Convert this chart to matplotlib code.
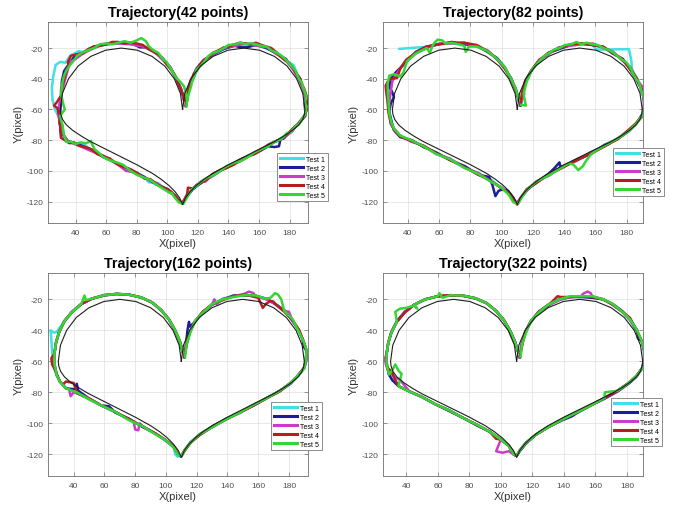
import matplotlib
matplotlib.use("Agg")
from matplotlib import pyplot as plt

plt.rcParams['font.family'] = ['Liberation Sans', 'DejaVu Sans']
plt.rcParams['axes.unicode_minus'] = False

### DATA ###

# reference heart (black line)
heart_x = [110, 108.6, 104.6, 98.3, 90, 80.4, 70, 59.6, 50, 41.7, 35.4, 31.4, 30,
           30.3, 31.5, 34, 38, 44, 50, 60, 70, 80, 90, 96, 101, 105, 108, 110,
           112, 115, 119, 124, 130, 140, 150, 160, 170, 176, 182, 186, 188.5, 189.7, 190,
           188.6, 184.6, 178.3, 170, 160.4, 150, 139.6, 130, 121.7, 115.4, 111.4, 110]
heart_y = [-60, -49.6, -40, -31.7, -25.4, -21.4, -20, -21.4, -25.4, -31.7, -40, -49.6, -60,
           -63, -66.5, -70, -73.5, -77.5, -81, -86, -91, -96, -101.5, -105.5, -109.5, -113.5, -117.5, -122,
           -117.5, -113.5, -109.5, -105.5, -101.5, -96, -91, -86, -81, -77.5, -73.5, -70, -66.5, -63, -60,
           -49.6, -40, -31.7, -25.4, -21.4, -20, -21.4, -25.4, -31.7, -40, -49.6, -60]

test_labels = ["Test 1", "Test 2", "Test 3", "Test 4", "Test 5"]
test_colors = ["#3fe0e6", "#1c1c9c", "#cc3ccc", "#b41e1e", "#34d634"]
panel_titles = ["Trajectory(42 points)", "Trajectory(82 points)",
                "Trajectory(162 points)", "Trajectory(322 points)"]
x_ticks = [40, 60, 80, 100, 120, 140, 160, 180]
y_ticks = [-120, -100, -80, -60, -40, -20]

# ---- 42 points ----
p42_test1 = [(112,-56),(113.5,-48),(116,-41.5),(119.5,-34),(124.5,-28.5),(130,-23),(137.5,-20.5),(144,-17.5),(151,-17.8),(158.5,-17),(165,-20.5),(171.5,-22.5),(177,-28),(182.5,-31),(186,-39.5),(189,-46),
             (191,-53),(191,-58.5),(190.5,-64),
             (186.5,-68.5),(181,-74.5),(174.5,-78.5),(166,-84),(157.5,-88),(148,-93.5),(139.5,-97),(130,-103),(122.5,-107),(116,-113),(112.5,-117),
             (110.5,-121),(108,-120.5),
             (105.5,-116),(100,-113),(94,-108),(88,-107.5),(85,-104),(76,-100),(67,-95.5),(58,-90),(50.5,-86.5),(45,-82.5),(40,-82),(34,-81),(31.5,-77),
             (31,-70),(29,-64.5),(26.5,-60),
             (25,-54),(24.5,-46),(25.5,-38),(27,-31),(30,-29),(33.5,-29.5),(36.5,-25),(42,-22),(45,-22.5),(52,-19),(60,-17.8),(68,-16.2),(76,-17.5),(84,-18.5),(91,-22.5),(97,-26.5),(102,-33.5),(106,-39.5),(109,-46.5),(111,-53.5)]
p42_test2 = [(112.5,-57),(113,-50),(115,-42),(119,-33.5),(123.5,-28),(130.5,-24),(137,-20.5),(144,-18.5),(148,-19.5),(152,-19.5),(158,-18),(165,-20),(171,-23.5),(177.5,-27),(182,-33.5),(187,-40),(189,-47.5),
             (191,-53.5),(191.5,-59),(189.5,-64.5),
             (186,-69.5),(181,-74),(176,-79),(174,-79.5),(173,-84),(170,-84.5),(166,-84),(157,-89),(148,-92.5),(139,-98),(130,-102),(122,-108),(116.5,-112),(112,-118),
             (110,-121.5),(108,-120),
             (105,-116.5),(100.5,-112),(93,-109),(85,-104),(76.5,-99.5),(67,-95),(58,-91),(50,-86),(42.5,-83),(35,-80.5),(31,-75.5),
             (29.5,-69),(30,-62),(30.5,-55),
             (31,-48),(31,-42),(32.5,-35),(37,-28.5),(40,-24.5),(45,-23),(52,-19),(60,-17.5),(68,-16.8),(76,-16.5),(82,-19.5),(86,-19.5),(91,-21.5),(97,-27.5),(102,-32.5),(106,-40.5),(109,-46.5),(111,-54)]
p42_test3 = [(112,-58),(113.5,-49.5),(115.5,-40.5),(119.5,-34.5),(124,-27.5),(130,-24),(136.5,-20),(144.5,-18.5),(151,-17),(158,-18.5),(165.5,-19.5),(171,-23.5),(176.5,-27),(182,-33.5),(186,-40.5),(188.5,-46),
             (190,-51),(189.5,-56),(190.5,-63),
             (186,-68.5),(181.5,-74.5),(174,-79.5),(166.5,-83),(157,-88),(148.5,-93.5),(139,-97),(130.5,-103),(127,-105),(125,-107),(122,-107),(116,-112),(112,-117),
             (110,-120.5),(108,-120),
             (104.5,-116),(100,-113),(93,-108),(85.5,-105),(78,-101),(73,-100),(67,-95.5),(58,-90),(50,-87),(42,-83.5),(35,-81),(32,-76),
             (30,-69.5),(28.5,-63),(29.5,-56),
             (31,-49),(33,-41),(35,-34),(36,-29),(39.5,-27.5),(45,-23.5),(52,-20),(60,-17),(68,-17),(76,-17.5),(84,-19),(91,-21.5),(97,-27.5),(102,-32.5),(106,-40),(109,-47),(111,-54.5)]
p42_test4 = [(112,-57.5),(112.5,-53),(113,-49),(114.5,-44),(116,-41),(117.5,-36.5),(119,-34.5),(121.5,-30.5),(124,-28),(127,-26),(130,-23),(133.5,-21.5),(137,-19.5),(140.5,-19),(144,-17.5),(147.5,-16.5),(151,-17),(154.5,-17.5),(158,-16.5),(161.5,-18),(165,-19),(168,-20),(171,-22.5),(174,-25.5),(177,-28),(179.5,-29.5),(182,-32.5),(184.5,-37),(186.5,-39.5),(188,-43.5),(189.5,-46.5),
             (191.5,-52.5),(190.5,-57),(191.5,-58),(190,-64.5),
             (188,-66.5),(186,-69),(183.5,-71),(181,-73.5),(177.5,-77),(174,-79.5),(170,-81),(166,-83),(161.5,-86.5),(157,-89),(152.5,-90.5),(148,-93),(143.5,-96),(139,-98),(134.5,-99.5),(130,-102),(126,-105.5),(122,-108),(119.5,-109),(117,-111.5),(113.5,-111),(113,-115),(112,-117.5),
             (110,-121),(108.5,-120),
             (105,-116),(102.5,-113.5),(100,-112),(96.5,-110.5),(93,-108.5),(89,-105.5),(85,-105),(80.5,-101.5),(76,-99),(71.5,-97.5),(67,-95.5),(62.5,-92),(58,-90.5),(54,-89),(50.5,-86),(46,-84.5),(42,-83.5),(39,-81.5),(36,-82),(33,-80),(30.5,-78.5),
             (30,-74),(30,-70),(29.5,-67.5),(30,-65),(28,-59),(26,-57.5),(28,-55),
             (30.5,-51),(30.5,-47.5),(31.5,-44),(33,-39),(34,-35),(35.5,-31.5),(35,-29),(36,-27),(37,-25),(41,-24),(45,-23.5),(48.5,-20.5),(52,-19),(56,-18.5),(60,-17.5),(64,-16),(68,-16),(72,-17),(76,-16.5),(80,-17),(84,-18),(87.5,-20.5),(91,-22.5),(94,-24),(97,-26.5),(99.5,-30.5),(102,-33.5),(104,-36),(106,-39.5),(107.5,-44),(109,-47.5),(110.5,-50.5),(111,-54)]
p42_test5 = [(112.5,-58),(113,-54),(114,-50),(115.5,-45),(116,-42.5),(118,-38),(119,-34),(121.5,-32),(124.5,-28.5),(127,-25),(130,-23),(133.5,-22),(137,-20),(140,-18),(144.5,-17.5),(148,-16.5),(151,-17.5),(154.5,-16.8),(158,-17.5),(161,-18.5),(165,-19),(168,-21.5),(171.5,-23),(174,-24.5),(177,-27),(180,-30.5),(182.5,-33),(184,-35),(186,-40),(188,-42.5),(189,-46),
             (191,-52),(190,-55),(191,-58),(190.5,-61),(190,-63.5),
             (188,-66),(186.5,-69),(184,-71),(181,-74.5),(178,-75.5),(176,-78),(174,-79.5),(170,-81),(166,-84),(161,-86),(157,-88),(152,-91.5),(148,-93.5),(143,-95),(139,-97),(134,-100.5),(130,-103),(126,-104.5),(122,-107),(119,-110),(116,-112),(114,-115.5),(112.5,-118),
             (110.5,-121.5),(107.5,-120.5),
             (104.5,-117),(103,-114.5),(101,-114),(97,-111.5),(93,-109),(89,-106),(85,-104.5),(80,-102.5),(76,-100),(71,-96),(67,-94.5),(62,-93),(58,-91),(55,-88),(52.5,-86),(51,-83),(50,-80.5),(47,-82),(43,-81.5),(40,-82.5),(37,-81),(34,-81),(32.5,-77),
             (31.5,-70),(30.5,-67),(30,-64),(33,-60),(32,-56.5),
             (30.5,-50),(31,-46),(31.5,-42),(32.5,-38),(34,-34.5),(36.5,-31),(39,-28),(41,-25),(44.5,-23),(48,-21.5),(52,-20),(56,-17.5),(60,-17),(64,-17.5),(68,-16.5),(72,-15.5),(76,-16.5),(80,-15),(83,-13.5),(86,-15.5),(88,-19),(91,-21.5),(94,-23),(97,-27),(99.5,-29),(102,-33),(104,-36.5),(106,-39.5),(108.5,-42),(111,-45),(112,-49),(113,-54)]

# ---- 82 points ----
p82_test1 = [(34.5,-20.5),(54,-19),(60,-17.5),(68,-16.8),(76,-17.5),(84,-18.5),(91,-22.5),(97,-26.5),(102,-33.5),(106,-39.5),(109,-47),(111,-54.5),
             (112.5,-57),(113,-48.5),(116,-41),(119,-34.5),(124.5,-28),(130,-23),(137.5,-20.5),(144,-17.5),(151,-17.5),(158,-17.5),(160.5,-21),(181.5,-20.7),(183,-28),(183.5,-34),(187,-40.5),(189.5,-46.5),
             (191,-53),(191.5,-58.5),(190,-64.5),
             (186.5,-68.5),(181,-74.5),(174.5,-78.5),(166,-84),(157.5,-88),(148,-93.5),(139.5,-97),(130,-103),(122.5,-107),(116,-113),(112.5,-117),
             (110.5,-121),(108,-120.5),
             (105.5,-115),(100,-111.5),(93.5,-106),(85,-102.5),(76,-97),(67,-93),(58,-88),(50.5,-84.5),(42,-80),(35.5,-78),(31,-72.5),
             (29.5,-68.5),(28,-62.5),(27,-55),
             (28.5,-48.5),(30,-41),(34,-34.5),(38.5,-28)]
p82_test2 = [(112,-57.5),(113.5,-49),(115,-41.5),(119.5,-34),(123.5,-28.5),(130.5,-23),(137,-20.5),(144.5,-18),(151,-17),(158,-18),(165.5,-19.5),(171,-23.5),(177.5,-27),(182,-33.5),(186,-40),(190,-47.5),
             (191,-53.5),(191.5,-59.5),(189.5,-64),
             (186,-69.5),(181.5,-74),(174,-79.5),(166,-83),(157,-89),(148.5,-92.5),(140,-97),(137.5,-97),(137,-94.5),(134,-98),(130,-102),(122,-108),(116.5,-112),(112,-118),
             (110,-121.5),(108.5,-119.5),
             (104,-113),(101,-112),(98,-113),(96,-116.5),(94,-109),(92,-104),(85,-102.5),(76.5,-97),(67,-93),(58,-88),(50,-84.5),(42.5,-80),(35,-78),(31,-73.5),
             (29.5,-68),(28,-61.5),(29,-56),(31,-52),(30,-49),(28,-45),(29,-40),(32,-36),
             (35,-33),(39.5,-28.5),(45,-22.5),(52,-19),(60,-17.5),(68,-16),(76,-17.5),(84,-18.5),(91,-22.5),(97,-26.5),(102,-32.5),(106,-40.5),(109,-46.5),(111,-54)]
p82_test3 = [(112,-56.5),(114.5,-50),(113.5,-48),(116,-40.5),(119,-35),(124,-27.5),(130,-24),(136.5,-19.5),(144,-18.5),(151,-17.5),(158.5,-17),(165,-20),(171.5,-22.5),(177,-28),(182.5,-32.5),(186.5,-40.5),(190,-45),(189,-47.5),
             (191.5,-52.5),(191,-58),(190.5,-63.5),
             (186,-69),(181,-74.5),(174.5,-79),(166.5,-83.5),(157,-88),(148,-93.5),(139,-97),(130.5,-103),(122,-107),(116,-113),(112.5,-117),
             (110,-120.5),(108,-120),
             (105,-115.5),(100.5,-111),(93,-107),(85.5,-101.5),(76,-98),(67,-92),(58,-89),(50,-83.5),(42,-81),(35,-77),(31.5,-73),
             (29,-69.5),(28,-62),(28,-55.5),
             (29,-48),(30,-41.5),(34.5,-34),(39,-28.5),(45,-23.5),(52,-20),(60,-17),(68,-17),(76,-16.5),(84,-19),(91,-21.5),(97,-27.5),(102,-33),(106,-40),(109,-47.5),(111,-54.5)]
p82_test4 = [(112,-57),(113,-49.5),(115.5,-41),(119,-34.5),(124,-28),(130,-23),(137,-20),(144,-17.5),(151,-17),(158,-18),(165,-19),(171,-23),(177,-27),(182,-33.5),(186.5,-39.5),(189.5,-47),
             (191.5,-53),(191,-59),(190,-64.5),
             (186,-69),(181,-73.5),(174,-79.5),(166,-84),(157,-89),(148,-93),(139,-98),(130,-102.5),(122,-108),(116,-112),(112,-118),
             (110,-122),(108.5,-120),
             (105,-115),(100,-111.5),(93,-106.5),(85,-102.5),(76,-97.5),(67,-93),(58,-88.5),(50.5,-84),(42,-80.5),(35,-77.5),(31,-73),
             (29,-69),(27.5,-62),(27,-55.5),(26,-48),(25.7,-44.5),(27,-42),
             (29,-40),(33,-39.5),(35,-33.5),(39,-27.5),(45,-23),(52,-19),(60,-17.5),(68,-16.5),(76,-16.5),(84,-18),(91,-22),(97,-27),(102,-33.5),(106,-39.5),(109,-47),(111,-53.5)]
p82_test5 = [(112.5,-57),(115.5,-57.5),(114,-50),(115,-46),(116,-42),(118,-37.5),(119,-34.5),(122,-31),(124.5,-28),(127.5,-25),(130,-23.5),(133.5,-21),(137,-20),(140.5,-18),(144.5,-17.5),(148,-16),(151,-17.5),(154.5,-16.5),(158,-17.5),(161.5,-18),(165,-20),(168,-21),(171.5,-23),(174,-25),(177,-27.5),(180,-29.5),(182.5,-33),(184,-36.5),(186,-40),(188,-42.5),(189,-46.5),
             (191,-52.5),(191.5,-58),(190,-64),
             (186.5,-69),(181,-74.5),(174,-79),(166,-83.5),(160,-87),(157,-89.5),(154,-93.5),(152,-97),(149,-99.5),(146,-96),(143,-95),(139,-97.5),(130,-103),(122,-107),(116,-112.5),(112.5,-118),
             (110.5,-121.5),(107.5,-120.5),
             (104.5,-115.5),(100,-111),(93,-107),(85,-102),(76,-98),(67,-92.5),(58,-89),(50,-84),(42,-80),(35,-77),(31,-72.5),
             (29.5,-69),(28,-62.5),(27.5,-55),
             (27,-48),(27,-43),(28,-38),(31,-37),(35,-38.5),(37,-36),(39.5,-28.5),(45,-23.5),(52,-20),(54,-23),(56,-18),(57,-16.5),(59,-14.5),(62,-15),(64,-17),(68,-16.5),(76,-18.5),(77,-22.5),(79,-19),(84,-19),(91,-22),(97,-27),(102,-32.5),(106,-40),(109,-46.5),(111,-54)]

# ---- 162 points ----
p162_test1 = [(112,-57),(113.5,-49),(115.5,-41.5),(119,-34),(124.5,-28),(130,-23.5),(137,-19.5),(144.5,-18),(151,-17),(158,-18),(165,-20),(171,-22.5),(177.5,-27.5),(182,-33),(186.5,-40),(189.5,-47.5),
              (191,-53),(191.5,-59),(190,-64.5),
              (186,-69.5),(181,-74),(174.5,-79),(166,-83.5),(157,-88),(148,-93.5),(139,-97),(130,-102.5),(122,-107.5),(116,-112),(112,-117.5),
              (110,-121),(107.5,-121.5),(106,-120),
              (105,-115),(100,-111.5),(93,-106.5),(85,-102),(76,-97.5),(67,-93),(58,-88.5),(50,-84.5),(42,-80.5),(35,-77),(31,-73),
              (28.5,-68.5),(27,-62),(26,-55),(25.5,-46),(25,-40),(27,-41.5),
              (29,-41),(34,-34),(39,-28.5),(45,-23),(52,-19.5),(60,-17),(68,-16.5),(76,-17),(84,-19),(91,-22),(97,-27.5),(102,-33),(106,-40.5),(109,-47),(111,-54)]
p162_test2 = [(112,-57.5),(113,-49.5),(114,-40),(115,-34.5),(115.5,-37.5),(119,-34.5),(124,-28),(130,-23.5),(137,-20),(144,-17.5),(151,-17.5),(158,-17.5),(165,-19.5),(171,-23),(177,-27),(182,-33.5),(186.5,-40),(189,-46),(189.5,-50.5),
              (191.5,-53),(191,-59),(190,-64),
              (186,-69),(181,-74.5),(174,-79),(166,-83.5),(157,-88.5),(148,-93),(139,-97.5),(130,-102.5),(122,-107),(116,-112.5),(112,-117.5),
              (110,-121.5),(108,-120),
              (105,-115.5),(100,-111),(93,-106.5),(85,-102.5),(76,-97),(67,-93),(63,-89),(58,-88.5),(50,-84),(43,-79),(42,-74.5),(41,-78),(35,-77.5),(31,-73),
              (29,-68.5),(27.5,-62),(27.5,-55),
              (28.5,-48),(30.5,-41.5),(34,-34),(39,-28),(45,-23),(52,-19.5),(60,-17.5),(68,-16.5),(76,-17),(84,-18.8),(91,-22),(97,-27),(102,-33),(106,-40),(109,-47),(111,-54)]
p162_test3 = [(112,-56.5),(113,-49),(115.5,-41),(119,-34),(124,-28.5),(130,-23.5),(131.5,-20),(133,-23),(137,-20),(144,-18),(151,-16.5),(154,-15),(157,-16),(158,-17.8),(165,-19.8),(171,-23),(177,-27.5),(180,-28),(182,-33),(186.5,-40),(189.5,-47),
              (191.5,-53),(191.5,-59),(190,-64),
              (186,-69),(181,-74),(174,-79),(166,-83.5),(157,-88.5),(148,-93),(139,-97.5),(130,-102.5),(122,-107.5),(116,-112.5),(112,-117.5),
              (110,-121),(108,-120),
              (105,-115),(100,-111),(93,-106.5),(85,-102),(83,-100),(82,-104.5),(80,-104),(79,-99),(76,-97.5),(67,-92.5),(58,-88.5),(50,-84),(42,-80.5),(40,-80),(38,-82.5),(37,-78),(35,-77.5),(31,-73),
              (29,-69),(27.5,-62),(27.5,-55),
              (28.5,-48),(30.5,-41),(34,-34),(39,-28),(45,-23),(52,-19.5),(60,-17.3),(68,-16.5),(76,-17),(84,-18.8),(91,-22),(97,-27),(102,-33),(106,-40),(109,-47),(111,-54)]
p162_test4 = [(112,-57),(113.5,-49),(115.5,-41.5),(119,-34),(124,-28),(130,-23),(137,-20.5),(144,-18),(151,-17),(158,-18.5),(160,-19),(163,-25.5),(165,-23),(168,-21),(170,-21.5),(171,-23),(177,-28),(182,-33),(186.5,-39.5),(189.5,-47),
              (191.5,-53),(191,-59),(190,-64),
              (186,-69),(181,-74),(174,-79.5),(166,-83.5),(157,-88.5),(148,-93),(139,-97.5),(130,-102),(122,-107.5),(116,-112.5),(112,-118),
              (110,-121),(108,-120),
              (105,-115),(100,-111),(93,-106.5),(85,-102),(76,-97.5),(67,-92.5),(58,-88.5),(50,-84),(42,-80.5),(41,-77),(40,-74),(35,-73),(33,-75),(31,-73),
              (28,-66),(26,-62),(25.5,-58),(27.5,-55),
              (28.5,-48),(30.5,-41),(34,-34),(39,-28),(45,-23),(52,-19.5),(60,-17.3),(68,-16.5),(76,-17),(84,-18.8),(91,-22),(97,-27),(102,-33),(106,-40),(109,-47),(111,-54)]
p162_test5 = [(112.5,-57),(113.5,-49),(116,-41),(119,-34),(124,-28.5),(130,-23),(137,-20),(144,-18.5),(151,-17.3),(158,-17.5),(165,-19.5),(168,-19),(171,-16),(173,-17),(175,-20),(177,-27.5),(182.5,-33),(186,-40),(189.5,-47),
              (191.5,-53),(191,-59),(190,-64.5),
              (186,-69),(181,-74),(174,-79),(166,-83.5),(157,-88),(148,-93),(139,-97.5),(130,-102.5),(122,-107),(116,-112.5),(112,-117.5),
              (110,-121),(108,-120.5),
              (105,-115.5),(100,-111),(93,-107),(85,-102),(76,-98),(67,-92.5),(58,-88.5),(50,-84.5),(42,-80),(35,-77.5),(31,-73),
              (29,-69),(27.5,-62),(27.5,-55),
              (28.5,-48),(30.5,-41),(34,-34),(39,-28),(45,-23),(47,-17.5),(48,-20.5),(52,-19.5),(60,-17.3),(68,-16.5),(76,-17),(84,-18.8),(91,-22),(97,-27),(102,-33),(106,-40),(109,-47),(111,-54)]

# ---- 322 points ----
p322_test1 = [(112,-57),(113,-49.5),(115.5,-41.5),(119,-34.5),(124,-28.5),(130,-24),(137,-20.5),(144,-18.5),(151,-18),(158,-18.3),(165,-20.3),(171,-23.5),(177,-28),(182,-33.5),(186,-40.5),(189.5,-47),
              (190.5,-52.8),(191,-59),(190,-64),
              (186,-69.5),(181,-74),(174,-79),(166,-83.5),(157,-88.5),(148,-93),(139,-97.5),(130,-102.5),(122,-107.5),(116,-112.5),(112,-117.5),
              (110,-121),(108,-120),
              (105,-114.5),(100,-110.5),(93,-105.5),(85,-101),(76,-96.5),(67,-91.5),(58,-87.5),(50,-83),(42,-79.5),(35,-76),(31,-72),
              (29,-68.5),(27.5,-62),(27.5,-55),
              (28.5,-48.5),(30.5,-41.5),(34,-34.5),(39,-28.5),(45,-23.5),(52,-20),(60,-18),(68,-17.3),(76,-17.6),(84,-19.3),(91,-22.5),(97,-27.5),(102,-33.5),(106,-40.5),(109,-47.5),(111,-54)]
p322_test2 = [(112,-57.5),(113.5,-49),(115.5,-41),(119,-34),(124,-28),(130,-23.5),(137,-20),(144,-18.5),(151,-18.5),(158,-19),(165,-20),(171,-23),(177,-27.5),(182,-33),(186.5,-40),(187,-45.2),(189.5,-47),
              (191,-53),(191,-59),(189.5,-64.5),
              (186,-70),(181,-74.5),(174,-79.5),(166,-84),(157,-88.5),(148,-93.5),(145,-95.5),(139,-98),(130,-102.5),(122,-107.5),(116,-113),(112,-118),
              (110,-121),(108,-120),
              (105,-114.5),(100,-110.5),(93,-105.5),(85,-101.5),(76,-96.5),(67,-92),(58,-87.5),(50,-83),(42,-79.5),(35,-76),(31,-72),
              (29,-68.5),(27.5,-62),(27.5,-55),
              (28.5,-48),(30.5,-41),(34,-34),(39,-28),(45,-23.5),(52,-20),(60,-18),(68,-17.5),(76,-17.8),(84,-19.5),(91,-22.5),(97,-27.5),(102,-33.5),(106,-40.5),(109,-47.5),(111,-54)]
p322_test3 = [(112,-57),(113,-49),(115.5,-41.5),(119,-34),(124,-28.5),(130,-24),(137,-20.5),(144,-18.5),(151,-18),(152,-16.5),(155,-15),(157,-16),(158,-18),(165,-20),(171,-23.5),(177,-28),(182,-33.5),(186.5,-40.5),(189.5,-47.5),
              (191,-53),(191,-59),(190,-64),
              (186,-69.5),(181,-74),(174,-79),(166,-83.5),(157,-88.5),(148,-93),(139,-97.5),(130,-102.5),(122,-107.5),(116,-112.5),(112,-117.5),
              (110,-121),(108,-120),
              (105,-118),(101,-119),(97,-118),(100,-110.5),(93,-105.5),(85,-101),(76,-96.5),(67,-91.5),(58,-87.5),(50,-83),(42,-79.5),(36,-72),(33,-70.5),
              (28.5,-66),(27,-62),(26.5,-58),(27.5,-55),
              (28.5,-48.5),(30.5,-41.5),(34,-34.5),(39,-28.5),(45,-23.5),(52,-20),(60,-18),(68,-17.5),(76,-17.6),(84,-19.3),(91,-22.5),(97,-27.5),(102,-33.5),(106,-40.5),(109,-47.5),(111,-54)]
p322_test4 = [(112,-57),(113.5,-49.5),(115.5,-41),(119,-34.5),(124,-28),(130,-24),(133,-21),(136,-18),(138,-18.5),(144,-18.5),(151,-18),(158,-18.5),(165,-20),(171,-23.5),(177,-28),(182,-32),(184,-36),(186.5,-40.5),(189.5,-47),
              (191,-53),(191,-59),(190,-64),
              (186,-69.5),(181,-74),(174,-79),(166,-83.5),(157,-88.5),(148,-93),(139,-97.5),(130,-102.5),(122,-107.5),(116,-112.5),(112,-117.5),
              (110,-121),(108,-120),
              (105,-114.5),(100,-110.5),(97,-110),(93,-105.5),(85,-101),(76,-96.5),(67,-91.5),(58,-87.5),(50,-83),(42,-79.5),(35,-76),(32,-70),
              (31,-67),(28,-64),(27.5,-60),(27.5,-55),
              (28.5,-48.5),(30.5,-41.5),(34,-34.5),(39,-28.5),(45,-23.5),(52,-20),(60,-18),(68,-17.3),(76,-17.6),(84,-19.3),(91,-22.5),(97,-27.5),(102,-33.5),(106,-40.5),(109,-47.5),(111,-54)]
p322_test5 = [(112.5,-57),(113.5,-49),(116,-41.5),(119,-34),(124,-28.5),(130,-23.5),(137,-20),(144,-18),(151,-18),(158,-18),(165,-20),(171,-23),(177,-28),(182,-33),(186.5,-40),(189.5,-47),
              (191,-53),(191,-59),(190,-64),
              (186,-69.5),(181,-74),(174,-79),(166,-80),(165.8,-82),(166,-83.5),(157,-88.5),(148,-93),(139,-97.5),(130,-102.5),(122,-107.5),(116,-112.5),(112,-117.5),
              (110,-121),(108,-120),
              (105,-114.5),(100,-110.5),(93,-105.5),(85,-101),(76,-96.5),(67,-91.5),(58,-87.5),(50,-83),(42,-79.5),(35,-76),(37,-68),(35,-66),(33,-62),(31,-66),
              (29,-68.5),(27.5,-62),(27.5,-55),
              (28.5,-48.5),(30.5,-41.5),(34,-34.5),(33,-28),(36,-26),(40,-25.5),(45,-24),(47,-26),(45,-23.5),(52,-20),(60,-18),(61,-16),(63,-19),(68,-17.3),(76,-17.6),(84,-19.3),(91,-22.5),(97,-27.5),(102,-33.5),(106,-40.5),(109,-47.5),(111,-54)]

panel_tests = [
    [p42_test1, p42_test2, p42_test3, p42_test4, p42_test5],
    [p82_test1, p82_test2, p82_test3, p82_test4, p82_test5],
    [p162_test1, p162_test2, p162_test3, p162_test4, p162_test5],
    [p322_test1, p322_test2, p322_test3, p322_test4, p322_test5],
]
panel_xlims = [(22, 192), (24, 190.5), (23.3, 192.4), (25.2, 190.2)]
panel_ylim = (-134, -3)


### LAYOUT (figure fractions) ###

W, H = 675, 506
axes_px = [(48, 23, 308, 224), (383, 23, 643, 224), (48, 274, 308, 477), (383, 274, 643, 477)]
legend_px = [(277, 154), (613, 149), (271, 403), (611, 399)]

fig = plt.figure(figsize=(W / 100, H / 100), dpi=100)
ink = "#4d4d4d"

for k in range(4):
    l, t, r, b = axes_px[k]
    ax = fig.add_axes([l / W, 1 - b / H, (r - l) / W, (b - t) / H])

    handles = []
    for pts, col, lab in zip(panel_tests[k], test_colors, test_labels):
        xs = [p[0] for p in pts]
        ys = [p[1] for p in pts]
        h, = ax.plot(xs, ys, color=col, lw=1.8, solid_joinstyle='round', label=lab, zorder=2)
        handles.append(h)
    ax.plot(heart_x, heart_y, color="#1e1e1e", lw=0.8, zorder=3)

    ax.set_xlim(*panel_xlims[k])
    ax.set_ylim(*panel_ylim)
    ax.set_xticks(x_ticks)
    ax.set_yticks(y_ticks)
    ax.grid(True, color="#e0e0e0", lw=0.5)
    ax.set_axisbelow(True)
    for s in ax.spines.values():
        s.set_color("#6e6e6e")
        s.set_linewidth(0.6)
    ax.tick_params(axis='both', direction='in', length=3, width=0.5, colors="#6e6e6e",
                   labelcolor=ink, labelsize=6, top=True, right=True)
    ax.tick_params(axis='x', pad=4.5)
    ax.tick_params(axis='y', pad=3.5)

    ax.set_title(panel_titles[k], fontsize=10.3, fontweight='bold', pad=4.5, color="black")
    ax.set_xlabel("X(pixel)", fontsize=8, color="#333333", labelpad=1.5)
    ax.set_ylabel("Y(pixel)", fontsize=8, color="#333333", labelpad=2)

    lx, ly = legend_px[k]
    leg = ax.legend(handles=handles, loc='upper left', bbox_to_anchor=(lx / W, 1 - ly / H),
                    bbox_transform=fig.transFigure, borderaxespad=0, fontsize=5,
                    handlelength=3.3, handletextpad=0.45, labelspacing=0.28, borderpad=0.4,
                    fancybox=False, framealpha=1, edgecolor="#7a7a7a")
    leg.get_frame().set_linewidth(0.6)
    for line in leg.get_lines():
        line.set_linewidth(2.2)

fig.savefig("out.png", dpi=100)
